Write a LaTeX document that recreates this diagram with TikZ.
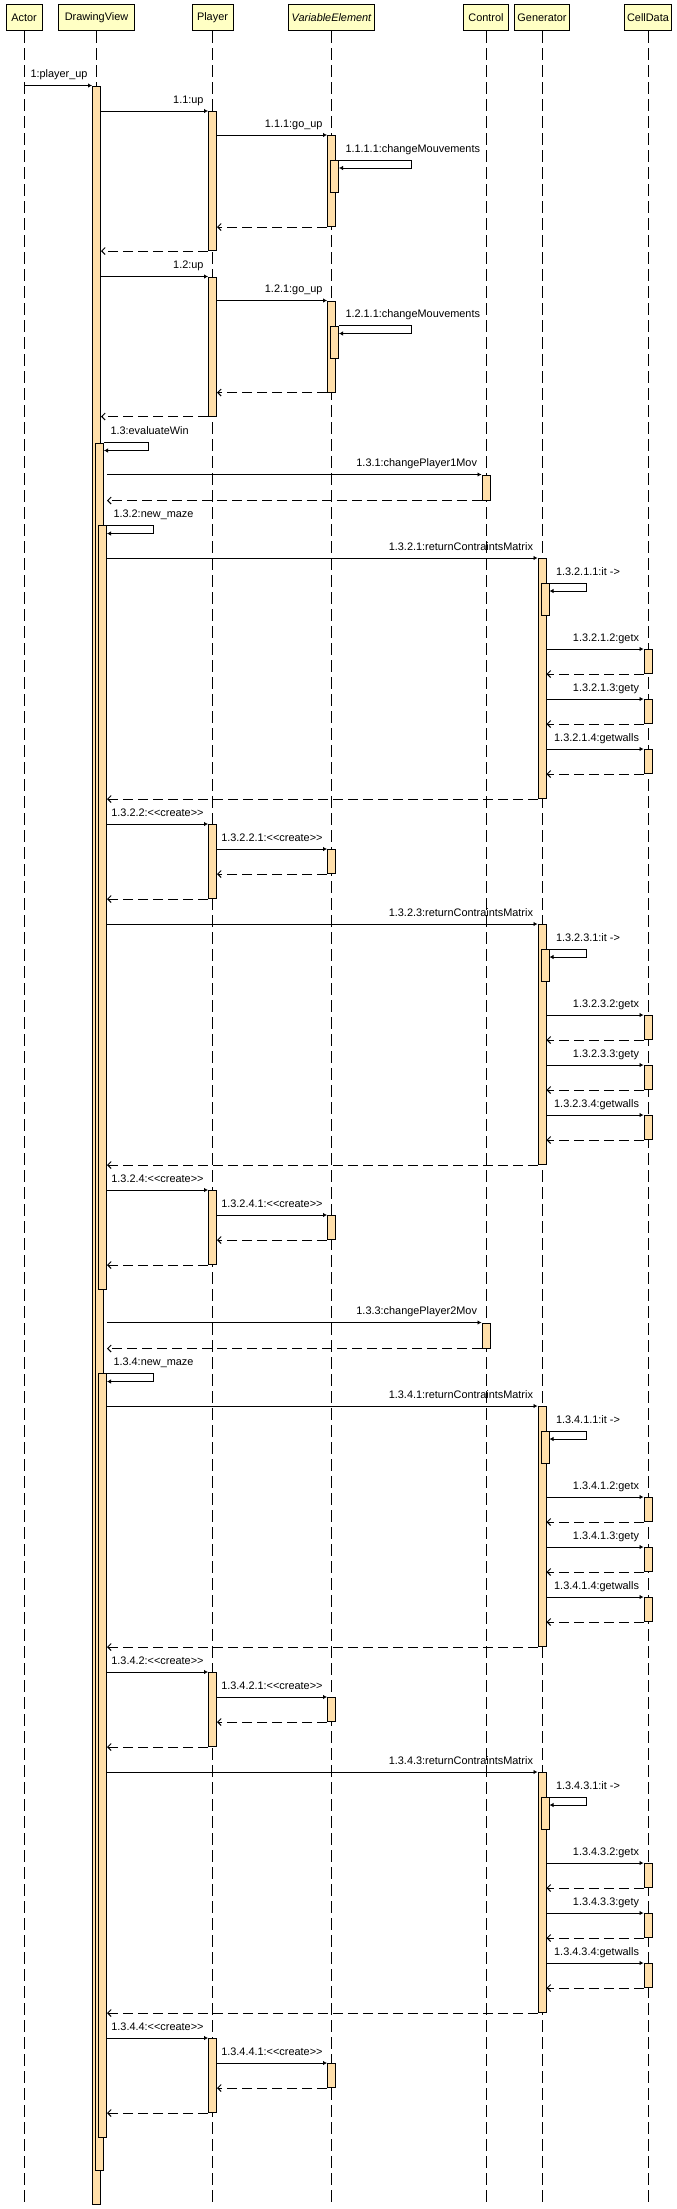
\documentclass[tikz,border=0pt]{standalone}
\usepackage{fontspec}
\setmainfont{Liberation Sans}[Ligatures=TeXOff]
\usepackage{tikz}
\usetikzlibrary{arrows.meta}

\definecolor{headfill}{HTML}{FFFFC4}
\definecolor{actfill}{HTML}{FFDFAA}

\tikzset{
	head/.style={draw=black,fill=headfill,line width=1pt,minimum height=26pt,inner sep=0pt,anchor=north,font=\fontsize{10.9}{13}\selectfont},
	life/.style={line width=1pt,dash pattern=on 12pt off 5pt},
	act/.style={draw=black,fill=actfill,line width=1pt,minimum width=8pt,inner sep=0pt,anchor=north},
	msg/.style={line width=1pt,-{Latex[length=4pt,width=4.5pt]}},
	ret/.style={line width=1pt,dash pattern=on 10pt off 5pt,-{Straight Barb[length=3.5pt,width=7pt]}},
	lbl/.style={inner sep=0pt,font=\fontsize{10.9}{13}\selectfont},
	callname/.style={lbl,at end,anchor=base east,xshift=-4pt,yshift=8pt},
	selfname/.style={lbl,anchor=base west,xshift=6pt,yshift=8pt}
}

\begin{document}
\begin{tikzpicture}[x=1pt,y=-1pt]
		\useasboundingbox (0,0) rectangle (677,2209);
		
		\node[head,minimum width=36pt] (actor) at (24,4) {Actor};
		\node[head,minimum width=76pt] (view) at (96.5,4) {DrawingView};
		\node[head,minimum width=41pt] (player) at (212.5,4) {Player};
		\node[head,minimum width=86pt] (elem) at (331.5,4) {\itshape VariableElement};
		\node[head,minimum width=45pt] (control) at (486,4) {Control};
		\node[head,minimum width=55pt] (gener) at (542,4) {Generator};
		\node[head,minimum width=47pt] (cell) at (648,4) {CellData};
		\foreach \n in {actor,view,player,elem,control,gener,cell}
			\draw[life] (\n.south) -- (\n.south |- 0,2203);
		
		\node[act,minimum height=2118pt] (view1) at (96.5,85.5) {};
		\draw[msg] (actor.south |- view1.north) -- node[callname] {1:player\_up} (view1.north west);
		
		\foreach \n/\dy in {1/0,2/165.5}{
			\begin{scope}[yshift={-1pt*\dy}]
				\node[act,minimum height=139pt] (pl\n) at (212.5,111) {};
				\node[act,minimum height=91pt] (el\n) at (331.5,135) {};
				\node[act,minimum height=32pt] (elb\n) at (334.5,160) {};
			\end{scope}
			\draw[msg] (view1.east |- pl\n.north) -- node[callname] {1.\n:up} (pl\n.north west);
			\draw[msg] (pl\n.east |- el\n.north) -- node[callname] {1.\n.1:go\_up} (el\n.north west);
			\draw[msg] (elb\n.north east) node[selfname] {1.\n.1.1:changeMouvements} -- ++(72,0) -- ++(0,8) -- ++(-72,0);
			\draw[ret] (el\n.south west) -- (pl\n.east |- el\n.south);
			\draw[ret] (pl\n.south west) -- (view1.east |- pl\n.south);
		}
		
		\node[act,minimum height=1727.5pt] (view2) at (99.5,442.5) {};
		\draw[msg] (view2.north east) node[selfname] {1.3:evaluateWin} -- ++(44,0) -- ++(0,8) -- ++(-44,0);
		
		\foreach \a/\b/\p/\dy in {2/1/1/0,4/3/2/848}{
			\begin{scope}[yshift={-1pt*\dy}]
				\node[act,minimum height=25pt] (ctl\b) at (486,474.5) {};
				\node[act,minimum height=764pt] (view\a) at (102.5,525) {};
				\draw[msg] (view2.east |- ctl\b.north) -- node[callname] {1.3.\b:changePlayer\p Mov} (ctl\b.north west);
				\draw[ret] (ctl\b.south west) -- (view2.east |- ctl\b.south);
				\draw[msg] (view\a.north east) node[selfname] {1.3.\a:new\_maze} -- ++(46,0) -- ++(0,8.5) -- ++(-46,0);
				\foreach \k/\kk/\ddy in {1/2/0,3/4/366}{
					\begin{scope}[yshift={-1pt*\ddy}]
						\node[act,minimum height=240pt] (gen\a\k) at (542,558) {};
						\node[act,minimum height=32pt] (genb\a\k) at (545,583) {};
						\node[act,minimum height=24pt] (getx\a\k) at (648,649) {};
						\node[act,minimum height=24pt] (gety\a\k) at (648,699) {};
						\node[act,minimum height=24pt] (getw\a\k) at (648,749) {};
						\node[act,minimum height=74pt] (plc\a\k) at (212.5,824) {};
						\node[act,minimum height=24pt] (elc\a\k) at (331.5,849) {};
					\end{scope}
					\draw[msg] (view\a.east |- gen\a\k.north) -- node[callname] {1.3.\a.\k:returnContraintsMatrix} (gen\a\k.north west);
					\draw[msg] (genb\a\k.north east) node[selfname] {1.3.\a.\k.1:it ->} -- ++(37,0) -- ++(0,8) -- ++(-37,0);
					\draw[msg] (gen\a\k.east |- getx\a\k.north) -- node[callname] {1.3.\a.\k.2:getx} (getx\a\k.north west);
					\draw[ret] (getx\a\k.south west) -- (gen\a\k.east |- getx\a\k.south);
					\draw[msg] (gen\a\k.east |- gety\a\k.north) -- node[callname] {1.3.\a.\k.3:gety} (gety\a\k.north west);
					\draw[ret] (gety\a\k.south west) -- (gen\a\k.east |- gety\a\k.south);
					\draw[msg] (gen\a\k.east |- getw\a\k.north) -- node[callname] {1.3.\a.\k.4:getwalls} (getw\a\k.north west);
					\draw[ret] (getw\a\k.south west) -- (gen\a\k.east |- getw\a\k.south);
					\draw[ret] (gen\a\k.south west) -- (view\a.east |- gen\a\k.south);
					\draw[msg] (view\a.east |- plc\a\k.north) -- node[callname] {1.3.\a.\kk:<<create>>} (plc\a\k.north west);
					\draw[msg] (plc\a\k.east |- elc\a\k.north) -- node[callname] {1.3.\a.\kk.1:<<create>>} (elc\a\k.north west);
					\draw[ret] (elc\a\k.south west) -- (plc\a\k.east |- elc\a\k.south);
					\draw[ret] (plc\a\k.south west) -- (view\a.east |- plc\a\k.south);
				}
			\end{scope}
		}
	\end{tikzpicture}
\end{document}
